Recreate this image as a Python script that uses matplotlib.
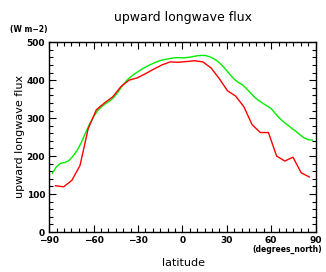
import numpy as np
import matplotlib
matplotlib.use('Agg')
import matplotlib.pyplot as plt
from matplotlib.ticker import MultipleLocator

# T21 gaussian latitudes (red), T42 gaussian latitudes (green)
lat_red = [-85.76, -80.27, -74.74, -69.21, -63.68, -58.14, -52.61, -47.07,
           -41.53, -36.00, -30.46, -24.92, -19.38, -13.84, -8.31, -2.77,
           2.77, 8.31, 13.84, 19.38, 24.92, 30.46, 36.00, 41.53,
           47.07, 52.61, 58.14, 63.68, 69.21, 74.74, 80.27, 85.76]
flux_red = [122, 119, 136, 175, 272, 322, 340, 356,
            383, 400, 406, 417, 429, 440, 448, 447,
            449, 451, 448, 432, 404, 372, 358, 330,
            283, 262, 262, 200, 187, 197, 156, 145]

lat_green = [-87.86, -85.10, -82.31, -79.53, -76.74, -73.95, -71.16, -68.37,
             -65.58, -62.79, -60.00, -57.21, -54.42, -51.63, -48.84, -46.05,
             -43.25, -40.46, -37.67, -34.88, -32.09, -29.30, -26.51, -23.72,
             -20.93, -18.14, -15.35, -12.56, -9.77, -6.98, -4.19, -1.40,
             1.40, 4.19, 6.98, 9.77, 12.56, 15.35, 18.14, 20.93,
             23.72, 26.51, 29.30, 32.09, 34.88, 37.67, 40.46, 43.25,
             46.05, 48.84, 51.63, 54.42, 57.21, 60.00, 62.79, 65.58,
             68.37, 71.16, 73.95, 76.74, 79.53, 82.31, 85.10, 87.86]
flux_green = [155, 172, 181, 183, 188, 200, 215, 235,
              260, 284, 304, 320, 331, 339, 346, 356,
              370, 386, 399, 409, 417, 424, 431, 437,
              442, 447, 451, 454, 456, 458, 459, 459,
              459, 460, 462, 464, 465, 465, 462, 457,
              450, 440, 428, 415, 403, 394, 388, 378,
              366, 355, 346, 339, 332, 325, 312, 300,
              290, 282, 273, 265, 256, 248, 243, 242]

fig = plt.figure(figsize=(3.26, 2.72), dpi=100)
ax = fig.add_axes([0.151, 0.147, 0.817, 0.698])

ax.plot(lat_green, flux_green, color='#00ee00', lw=1.0)
ax.plot(lat_red, flux_red, color='#ff0000', lw=1.0)

ax.set_xlim(-90, 90)
ax.set_ylim(0, 500)
ax.xaxis.set_major_locator(MultipleLocator(30))
ax.xaxis.set_minor_locator(MultipleLocator(5))
ax.yaxis.set_major_locator(MultipleLocator(100))
ax.yaxis.set_minor_locator(MultipleLocator(20))
ax.tick_params(which='both', direction='in', top=True, right=True,
               labelsize=6.5, width=0.8)
ax.tick_params(axis='x', pad=3)
ax.tick_params(axis='y', pad=3)
ax.tick_params(which='major', length=5)
ax.tick_params(which='minor', length=3)
ax.set_xticks([-90, -60, -30, 0, 30, 60, 90])
ax.set_xticklabels(['\u221290', '\u221260', '\u221230', '0', '30', '60', '90'],
                   fontweight='bold')
ax.set_yticks([0, 100, 200, 300, 400, 500])
ax.set_yticklabels(['0', '100', '200', '300', '400', '500'], fontweight='bold')
for sp in ax.spines.values():
    sp.set_linewidth(1.0)

fig.text(0.562, 0.935, 'upward longwave flux', ha='center', va='center', fontsize=9)
fig.text(0.03, 0.893, '(W m\u22122)', ha='left', va='center', fontsize=5.5, fontweight='bold')
fig.text(0.988, 0.084, '(degrees_north)', ha='right', va='center', fontsize=5.5, fontweight='bold')
fig.text(0.562, 0.033, 'latitude', ha='center', va='center', fontsize=8)
fig.text(0.062, 0.497, 'upward longwave flux', ha='center', va='center',
         fontsize=8, rotation=90)

fig.savefig('out.png', dpi=100)
